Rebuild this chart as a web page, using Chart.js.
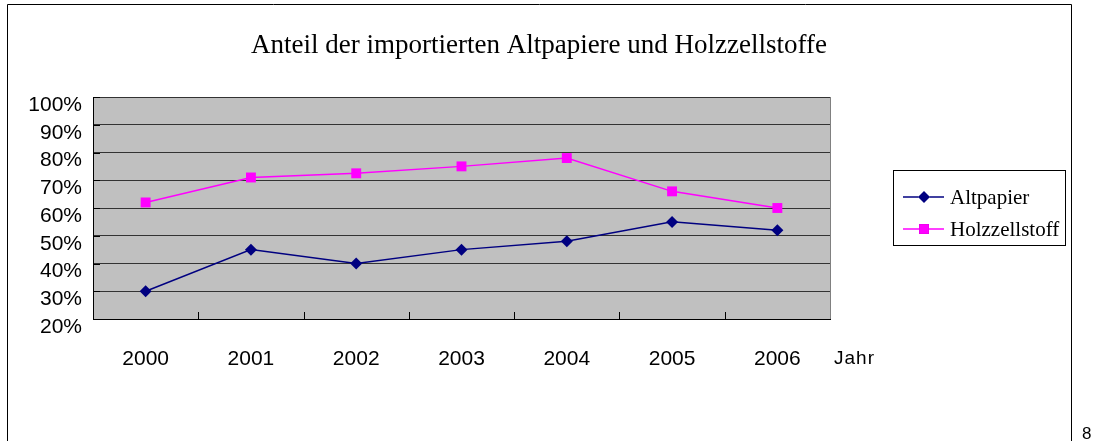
<!DOCTYPE html>
<html>
<head>
<meta charset="utf-8">
<script src="https://cdn.jsdelivr.net/npm/chart.js@4.4.1/dist/chart.umd.min.js"></script>
<style>
  body { margin: 0; background: #fff; }
  canvas { display: block; }
</style>
</head>
<body>
<canvas id="chart" width="1093" height="441"></canvas>
<script>
let years = ["2000", "2001", "2002", "2003", "2004", "2005", "2006"];
let altpapier = [30, 45, 40, 45, 48, 55, 52];
let holzzellstoff = [62, 71, 72.5, 75, 78, 66, 60];
let titleText = "Anteil der importierten Altpapiere und Holzzellstoffe";
let xAxisName = "Jahr";
let pageNumber = "8";

// background, frame, inward ticks, title, legend
const decor = {
  id: "decor",
  beforeDraw(chart) {
    let ctx = chart.ctx;
    let a = chart.chartArea;
    ctx.save();
    ctx.fillStyle = "#fff";
    ctx.fillRect(0, 0, chart.width, chart.height);
    ctx.fillStyle = "#c0c0c0";
    ctx.fillRect(a.left, a.top, a.right - a.left, a.bottom - a.top);
    ctx.restore();
  },
  afterDraw(chart) {
    let ctx = chart.ctx;
    let a = chart.chartArea;
    let x = chart.scales.x;
    let y = chart.scales.y;
    ctx.save();

    // right edge of plot
    ctx.strokeStyle = "#808080";
    ctx.lineWidth = 1;
    ctx.beginPath();
    ctx.moveTo(Math.round(a.right) + 0.5, a.top);
    ctx.lineTo(Math.round(a.right) + 0.5, a.bottom);
    ctx.stroke();

    // inward tick marks
    ctx.strokeStyle = "#000";
    ctx.beginPath();
    let half = (x.getPixelForValue(1) - x.getPixelForValue(0)) / 2;
    for (let i = 1; i < years.length; i++) {
      let px = Math.round(x.getPixelForValue(i) - half) + 0.5;
      ctx.moveTo(px, a.bottom);
      ctx.lineTo(px, a.bottom - 7);
    }
    y.ticks.forEach(t => {
      let py = Math.round(y.getPixelForValue(t.value)) + 0.5;
      ctx.moveTo(a.left, py);
      ctx.lineTo(a.left + 7, py);
    });
    ctx.stroke();

    // outer frame
    ctx.beginPath();
    ctx.moveTo(7.5, chart.height);
    ctx.lineTo(7.5, 4.5);
    ctx.lineTo(1071.5, 4.5);
    ctx.lineTo(1071.5, chart.height);
    ctx.stroke();

    // title
    ctx.fillStyle = "#000";
    ctx.font = "27px 'Liberation Serif', 'Times New Roman', serif";
    ctx.textAlign = "center";
    ctx.textBaseline = "alphabetic";
    ctx.fillText(titleText, 539, 53);

    // axis name
    ctx.font = "19px 'Liberation Sans', Arial, sans-serif";
    ctx.textAlign = "left";
    ctx.letterSpacing = "1px";
    ctx.fillText(xAxisName, 834, 364);
    ctx.letterSpacing = "0px";

    // page number
    ctx.font = "17px 'Liberation Sans', Arial, sans-serif";
    ctx.fillText(pageNumber, 1082, 439);

    // legend
    ctx.fillStyle = "#fff";
    ctx.fillRect(893, 170, 173, 75);
    ctx.strokeStyle = "#000";
    ctx.strokeRect(893.5, 170.5, 172, 75);
    ctx.font = "21px 'Liberation Serif', 'Times New Roman', serif";
    ctx.textBaseline = "middle";
    let rows = [197, 229];
    chart.data.datasets.forEach((ds, i) => {
      let ly = rows[i];
      ctx.strokeStyle = ds.borderColor;
      ctx.lineWidth = 1.5;
      ctx.beginPath();
      ctx.moveTo(903, ly);
      ctx.lineTo(944, ly);
      ctx.stroke();
      Chart.helpers.drawPoint(ctx, {
        pointStyle: ds.pointStyle,
        radius: ds.pointRadius,
        borderWidth: 0,
        rotation: 0
      }, 924, ly);
      ctx.fillStyle = ds.pointBackgroundColor;
      ctx.fill();
      ctx.fillStyle = "#000";
      ctx.fillText(ds.label, 950, ly + 1);
    });
    ctx.restore();
  }
};

new Chart(document.getElementById("chart"), {
  type: "line",
  data: {
    labels: years,
    datasets: [
      {
        label: "Altpapier",
        data: altpapier,
        borderColor: "#000080",
        backgroundColor: "#000080",
        pointBackgroundColor: "#000080",
        pointBorderColor: "#000080",
        pointStyle: "rectRot",
        pointRadius: 6,
        pointBorderWidth: 0,
        borderWidth: 1.5,
        tension: 0
      },
      {
        label: "Holzzellstoff",
        data: holzzellstoff,
        borderColor: "#ff00ff",
        backgroundColor: "#ff00ff",
        pointBackgroundColor: "#ff00ff",
        pointBorderColor: "#ff00ff",
        pointStyle: "rect",
        pointRadius: 7,
        pointBorderWidth: 0,
        borderWidth: 1.5,
        tension: 0
      }
    ]
  },
  options: {
    responsive: false,
    animation: false,
    layout: {
      padding: { top: 97, left: 0, right: 263, bottom: 62 }
    },
    plugins: {
      legend: { display: false },
      tooltip: { enabled: false },
      title: { display: false }
    },
    scales: {
      x: {
        offset: true,
        afterFit(scale) { scale.height = 60; },
        grid: { display: false, drawTicks: false },
        border: { display: true, color: "#000", width: 1 },
        ticks: {
          padding: 28,
          color: "#000",
          font: { family: "'Liberation Sans', Arial, sans-serif", size: 21 }
        }
      },
      y: {
        min: 20,
        max: 100,
        afterFit(scale) { scale.width = 93; },
        grid: { color: "#333333", lineWidth: 1, drawTicks: false },
        border: { display: true, color: "#000", width: 1 },
        ticks: {
          stepSize: 10,
          autoSkip: false,
          padding: 11,
          labelOffset: 8,
          color: "#000",
          font: { family: "'Liberation Sans', Arial, sans-serif", size: 21 },
          callback: v => v + "%"
        }
      }
    }
  },
  plugins: [decor]
});
</script>
</body>
</html>
